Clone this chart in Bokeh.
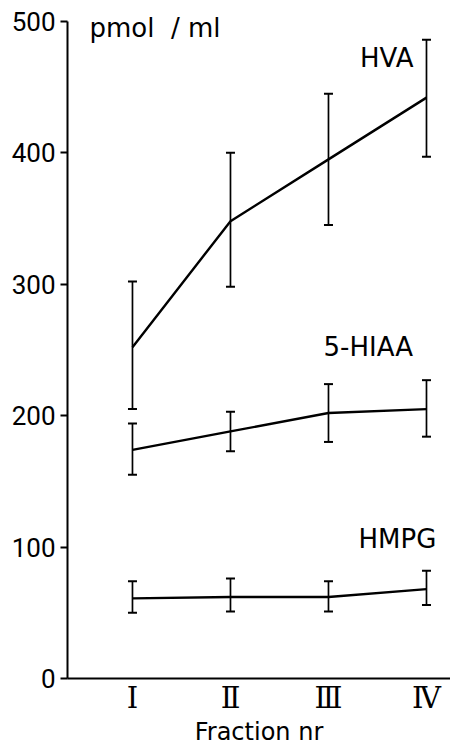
from bokeh.plotting import figure
from bokeh.models import ColumnDataSource, Whisker, TeeHead, FixedTicker
from bokeh.core.properties import value
from bokeh.embed import file_html
from bokeh.resources import INLINE

fractions = [1, 2, 3, 4]
fraction_labels = ["Ⅰ", "Ⅱ", "Ⅲ", "Ⅳ"]

hva = [252, 348, 395, 442]
hva_upper = [302, 400, 445, 486]
hva_lower = [205, 298, 345, 397]

hiaa = [174, 188, 202, 205]
hiaa_upper = [194, 203, 224, 227]
hiaa_lower = [155, 173, 180, 184]

hmpg = [61, 62, 62, 68]
hmpg_upper = [74, 76, 74, 82]
hmpg_lower = [50, 51, 51, 56]

y_ticks = [0, 100, 200, 300, 400, 500]

series_labels = ["HVA", "5-HIAA", "HMPG"]
label_x = [3.867, 2.949, 3.306]
label_y = [472, 252, 106]
label_align = ["right", "left", "left"]

LABEL_FONT = "DejaVu Sans"

p = figure(frame_width=383, frame_height=665, min_border_left=67, min_border_top=13,
           min_border_right=0, min_border_bottom=66,
           x_range=(0.337, 4.245), y_range=(0, 506),
           output_backend="svg", toolbar_location=None, tools="")
p.background_fill_color = "white"
p.border_fill_color = "white"
p.outline_line_color = None
p.grid.visible = False

for vals, up, lo in [(hva, hva_upper, hva_lower), (hiaa, hiaa_upper, hiaa_lower), (hmpg, hmpg_upper, hmpg_lower)]:
    src = ColumnDataSource(dict(x=fractions, y=vals, upper=up, lower=lo))
    p.line("x", "y", source=src, line_color="black", line_width=2.4)
    w = Whisker(source=src, base="x", upper="upper", lower="lower", dimension="height",
                line_color="black", line_width=1.7,
                upper_head=TeeHead(size=9, line_color="black", line_width=2),
                lower_head=TeeHead(size=9, line_color="black", line_width=2))
    p.add_layout(w)

p.text(x=label_x, y=label_y, text=series_labels, text_align=label_align,
       text_baseline="middle", text_font=value(LABEL_FONT), text_font_size="26px",
       text_color="black")
p.text(x=[0.561], y=[495], text=["pmol\u00a0\u00a0/ ml"], text_align="left",
       text_baseline="middle", text_font=value(LABEL_FONT), text_font_size="26px",
       text_color="black")

ya = p.yaxis[0]
ya.ticker = FixedTicker(ticks=y_ticks)
ya.bounds = (0, 500)
ya.axis_line_width = 2
ya.axis_line_color = "black"
ya.major_tick_line_width = 2
ya.major_tick_line_color = "black"
ya.major_tick_out = 7
ya.major_tick_in = 0
ya.minor_tick_out = 0
ya.minor_tick_in = 0
ya.major_label_standoff = 5
ya.major_label_text_font = "Roboto"
ya.major_label_text_font_size = "26px"
ya.major_label_text_color = "black"

xa = p.xaxis[0]
xa.ticker = FixedTicker(ticks=fractions)
xa.major_label_overrides = {f: l for f, l in zip(fractions, fraction_labels)}
xa.axis_line_width = 2
xa.axis_line_color = "black"
xa.major_tick_out = 0
xa.major_tick_in = 0
xa.minor_tick_out = 0
xa.minor_tick_in = 0
xa.major_label_standoff = 2
xa.major_label_text_font = "DejaVu Serif"
xa.major_label_text_font_size = "29px"
xa.major_label_text_color = "black"
xa.axis_label = "Fraction nr"
xa.axis_label_text_font = LABEL_FONT
xa.axis_label_text_font_size = "24px"
xa.axis_label_text_font_style = "normal"
xa.axis_label_text_color = "black"
xa.axis_label_standoff = 0

open("out.html", "w").write(file_html(p, INLINE))
